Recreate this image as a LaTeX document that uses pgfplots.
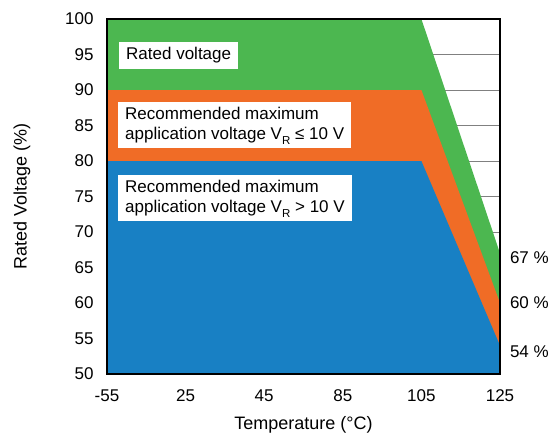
\documentclass[border=0pt]{standalone}
\usepackage{fontspec}
\setmainfont{Liberation Sans}
\usepackage{pgfplots}
\pgfplotsset{compat=1.18}

\definecolor{ratedgreen}{RGB}{76,183,80}
\definecolor{lowvorange}{RGB}{240,108,38}
\definecolor{highvblue}{RGB}{24,128,196}

\newcommand{\subR}{\smash{\raisebox{-5.5pt}{\fontsize{11.5}{12}\selectfont R}}}

\begin{document}
\begin{tikzpicture}
\path[use as bounding box] (-107pt,-60pt) rectangle (443pt,374pt);
\begin{axis}[
  width=393pt, height=355pt, scale only axis,
  xmin=0, xmax=5, ymin=50, ymax=100,
  xtick={0,1,2,3,4,5},
  xticklabels={-55,25,45,85,105,125},
  ytick={50,55,...,100},
  ymajorgrids,
  grid style={gray, line width=0.8pt},
  major tick length=0pt,
  axis line style={draw=none},
  tick label style={font=\fontsize{17}{20}\selectfont},
  xticklabel style={yshift=-12pt},
  yticklabel style={xshift=-10pt},
  /pgf/number format/assume math mode=true,
  xlabel={Temperature (°C)},
  ylabel={Rated Voltage (\%)},
  label style={font=\fontsize{18}{21}\selectfont},
  xlabel style={at={(axis description cs:0.5,0)}, anchor=north, yshift=-39pt},
  ylabel style={at={(axis description cs:-0.186,0.5)}, anchor=south},
  clip=false,
]
% rated voltage
\addplot[fill=ratedgreen, draw=none] coordinates {(0,50) (0,100) (4,100) (5,67) (5,50)} -- cycle;
% V_R <= 10 V
\addplot[fill=lowvorange, draw=none] coordinates {(0,50) (0,90) (4,90) (5,60) (5,50)} -- cycle;
% V_R > 10 V
\addplot[fill=highvblue, draw=none] coordinates {(0,50) (0,80) (4,80) (5,54) (5,50)} -- cycle;

\draw[line width=2.2pt] (rel axis cs:0,0) rectangle (rel axis cs:1,1);

\begin{scope}[every node/.style={font=\fontsize{17}{20}\selectfont}]
\node[fill=white, anchor=west, inner xsep=7pt, inner ysep=5.5pt] at (axis cs:0.153,94.86) {Rated voltage};
\node[fill=white, anchor=west, inner xsep=7pt, inner ysep=5pt, align=left]
  at (axis cs:0.14,85.07) {Recommended maximum\\application voltage V\subR{} ≤ 10 V};
\node[fill=white, anchor=west, inner xsep=7pt, inner ysep=5pt, align=left]
  at (axis cs:0.14,74.79) {Recommended maximum\\application voltage V\subR{} > 10 V};
\node[anchor=west, xshift=6.5pt] at (axis cs:5,66.4) {67 \%};
\node[anchor=west, xshift=6.5pt] at (axis cs:5,60.1) {60 \%};
\node[anchor=west, xshift=6.5pt] at (axis cs:5,53.2) {54 \%};
\end{scope}
\end{axis}
\end{tikzpicture}
\end{document}
